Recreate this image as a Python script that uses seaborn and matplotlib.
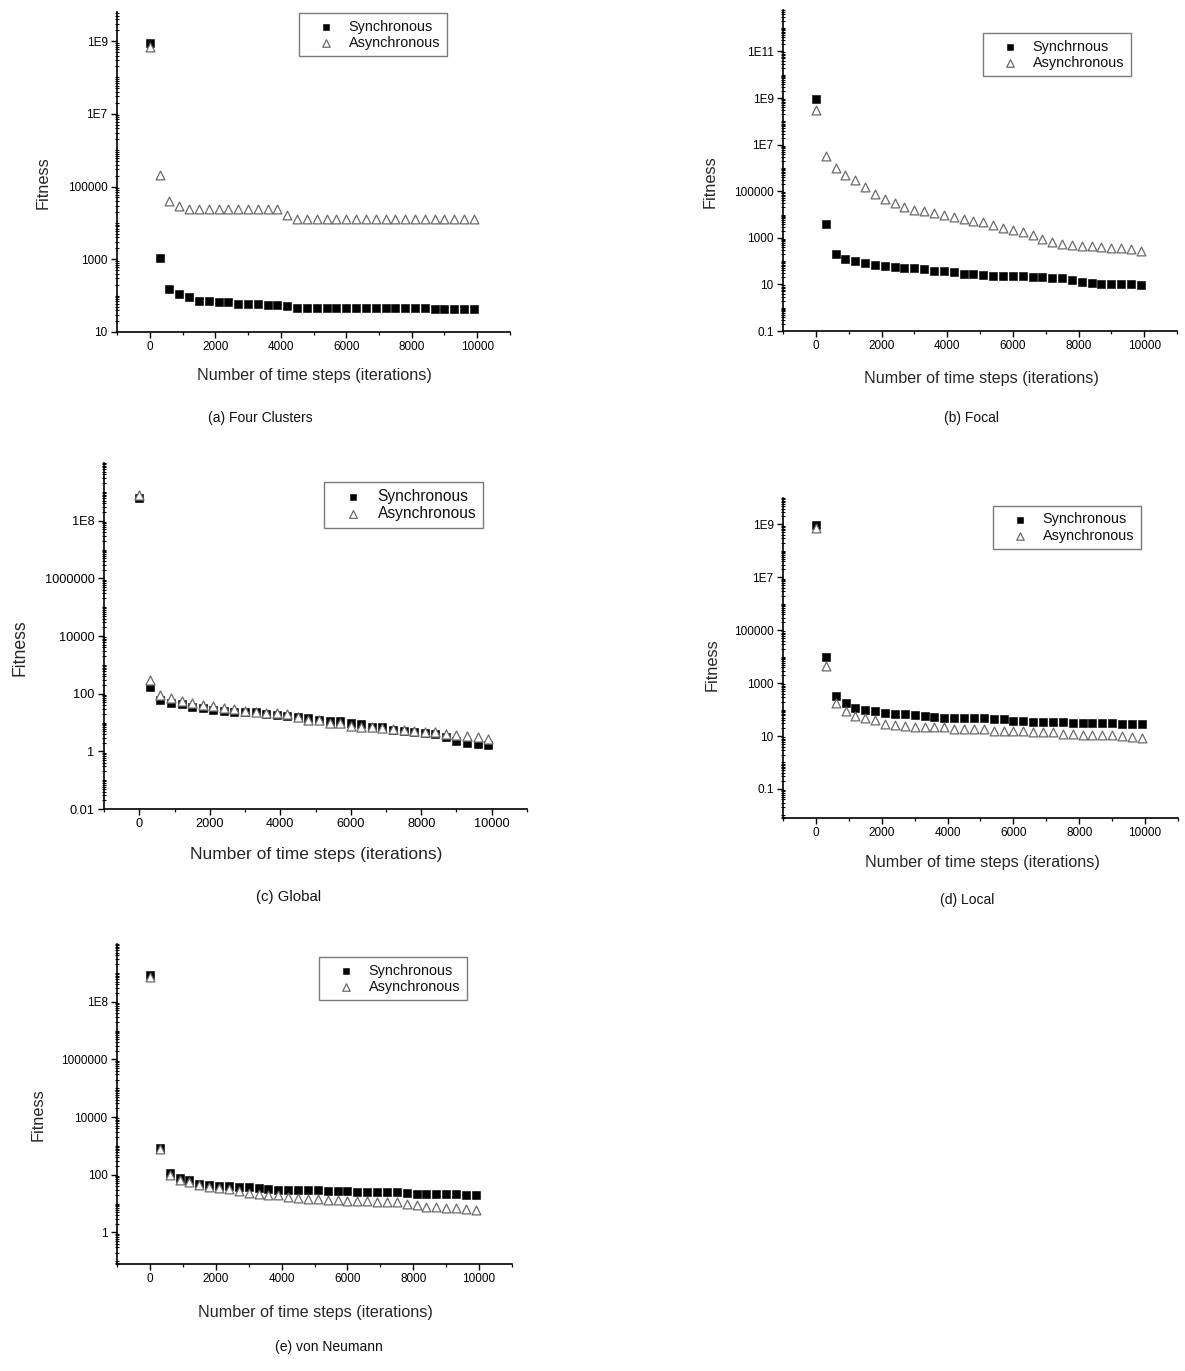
import matplotlib
matplotlib.use("Agg")
import matplotlib.pyplot as plt
import matplotlib.ticker as mticker
import numpy as np
import pandas as pd
import seaborn as sns

# iteration at which fitness was recorded (same for every panel)
steps = [0, 300, 600, 900, 1200, 1500, 1800, 2100, 2400, 2700,
         3000, 3300, 3600, 3900, 4200, 4500, 4800, 5100, 5400, 5700,
         6000, 6300, 6600, 6900, 7200, 7500, 7800, 8100, 8400, 8700,
         9000, 9300, 9600, 9900]

# (a) four clusters
four_sync = [9e8, 1100, 150, 110, 92, 73, 70, 67, 66, 59,
             58, 58, 56, 54, 51, 46, 46, 46, 46, 46,
             46, 46, 45, 45, 45, 45, 45, 45, 45, 44,
             44, 44, 44, 44]
four_async = [7e8, 2.1e5, 4e4, 2.9e4, 2.4e4, 2.4e4, 2.4e4, 2.4e4, 2.4e4, 2.4e4,
              2.4e4, 2.4e4, 2.4e4, 2.4e4, 1.7e4, 1.3e4, 1.3e4, 1.3e4, 1.3e4, 1.3e4,
              1.3e4, 1.3e4, 1.3e4, 1.3e4, 1.3e4, 1.3e4, 1.3e4, 1.3e4, 1.3e4, 1.3e4,
              1.3e4, 1.3e4, 1.3e4, 1.3e4]

# (b) focal
focal_sync = [9e8, 3800, 200, 125, 97, 83, 70, 59, 55, 53,
              49, 46, 39, 37, 34, 29, 27, 25, 24, 24,
              23, 23, 21, 20, 19, 18, 15, 13, 11, 10.9,
              10.6, 10, 10, 9.5]
focal_async = [3e8, 3.1e6, 9.5e5, 4.8e5, 3.1e5, 1.5e5, 7.8e4, 4.8e4, 3e4, 2.1e4,
               1.5e4, 1.35e4, 1.15e4, 1e4, 8000, 6500, 5500, 4800, 3600, 2600,
               2200, 1700, 1300, 900, 690, 565, 480, 460, 445, 405,
               380, 355, 340, 280]

# (c) global
global_sync = [6e8, 170, 62, 49, 43, 35, 33, 28, 26, 23,
               23, 23, 19, 18, 17, 15, 14, 12, 11, 11,
               10, 8.9, 7, 7, 5.5, 5.2, 4.8, 4.3, 4.1, 3.2,
               2.3, 2.0, 1.8, 1.6]
global_async = [7.8e8, 290, 92, 70, 56, 48, 42, 37, 33, 29,
                25, 24, 21, 21, 19, 15.5, 12, 12, 10, 9.6,
                7.6, 7, 7, 6.6, 6, 5.5, 5.1, 4.8, 4.6, 3.9,
                3.6, 3.3, 3.1, 2.7]

# (d) local
local_sync = [9.3e8, 1e4, 316, 178, 118, 98, 85, 72, 68, 68,
              62, 55, 54, 50, 49, 48, 47, 46, 44, 43,
              38, 36, 35, 35, 34, 33, 32, 31, 30, 30,
              30, 29, 29, 29]
local_async = [7.4e8, 4300, 170, 85, 59, 48, 40, 29, 25, 24,
               22, 22, 21, 21, 19, 19, 18, 18, 16, 15,
               15, 15, 14, 14, 14, 12, 11.5, 11, 10.8, 10.8,
               10.5, 10, 9, 8.5]

# (e) von Neumann
vn_sync = [8.5e8, 820, 112, 78, 63, 49, 43, 41, 41, 38,
           36, 34, 32, 30, 30, 30, 29, 29, 28, 28,
           27, 26, 26, 25, 25, 25, 24, 22, 21, 21,
           21, 21, 20.5, 20]
vn_async = [6.9e8, 760, 100, 68, 56, 44, 37, 35, 31, 27,
            23, 21, 20, 19, 17, 15, 14, 14, 13.5, 13,
            12, 12, 12, 11.7, 11.5, 11, 10, 8.8, 7.5, 7.3,
            7.1, 6.8, 6.6, 6.2]

x_ticks = [0, 2000, 4000, 6000, 8000, 10000]

yticks_a = [10, 1e3, 1e5, 1e7, 1e9]
ylabels_a = ["10", "1000", "100000", "1E7", "1E9"]
yticks_b = [0.1, 10, 1e3, 1e5, 1e7, 1e9, 1e11]
ylabels_b = ["0.1", "10", "1000", "100000", "1E7", "1E9", "1E11"]
yticks_c = [0.01, 1, 100, 1e4, 1e6, 1e8]
ylabels_c = ["0.01", "1", "100", "10000", "1000000", "1E8"]
yticks_d = [0.1, 10, 1e3, 1e5, 1e7, 1e9]
ylabels_d = ["0.1", "10", "1000", "100000", "1E7", "1E9"]
yticks_e = [1, 100, 1e4, 1e6, 1e8]
ylabels_e = ["1", "100", "10000", "1000000", "1E8"]

sns.set_style("ticks")
plt.rcParams["font.family"] = ["Liberation Sans", "DejaVu Sans"]
plt.rcParams["text.color"] = "#111111"

W, H = 1185, 1371
fig = plt.figure(figsize=(W / 100, H / 100), dpi=100)
fig.patch.set_facecolor("white")


def fx(px):
    return px / W


def fy(py):
    return 1 - py / H


def draw_panel(box, sync, asyn, sync_name, ylim, yticks, ylabels, title,
               legend_xy, xlabel_xy, ylabel_xy, title_xy, scale=1.0):
    left, top, right, bottom = box
    ax = fig.add_axes([fx(left), fy(bottom), (right - left) / W, (bottom - top) / H])
    df = pd.DataFrame({"step": steps, "sync": sync, "async": asyn})

    # open triangles are drawn over the filled squares, as in the original
    sns.scatterplot(data=df, x="step", y="sync", marker="s", s=26 * scale,
                    color="black", edgecolor="black", linewidth=0.4,
                    label=sync_name, ax=ax, zorder=3)
    sns.scatterplot(data=df, x="step", y="async", marker="^", s=40 * scale,
                    facecolor="white", edgecolor="#6a6a6a", linewidth=0.9,
                    label="Asynchronous", ax=ax, zorder=4)

    ax.set_yscale("log")
    ax.set_xlim(-1000, 11000)
    ax.set_ylim(*ylim)
    ax.set_xticks(x_ticks)
    ax.xaxis.set_minor_locator(mticker.MultipleLocator(1000))
    ax.yaxis.set_major_locator(mticker.FixedLocator(yticks))
    ax.yaxis.set_major_formatter(mticker.FixedFormatter(ylabels))
    ax.yaxis.set_minor_locator(mticker.LogLocator(base=10, subs=np.arange(1, 10), numticks=100))
    ax.yaxis.set_minor_formatter(mticker.NullFormatter())
    ax.tick_params(which="major", direction="out", length=4.3, width=1.0,
                   labelsize=8.5 * scale, colors="black", pad=2.5)
    ax.tick_params(axis="y", which="minor", direction="inout", length=3.2, width=0.8, colors="black")
    ax.tick_params(axis="x", which="minor", direction="out", length=2.5, width=0.9, colors="black")

    sns.despine(ax=ax)
    for side in ["left", "bottom"]:
        ax.spines[side].set_linewidth(1.2)
        ax.spines[side].set_color("black")

    ax.set_xlabel("Number of time steps (iterations)", fontsize=11.6 * scale, va="center")
    ax.set_ylabel("Fitness", fontsize=11.8 * scale, va="center", ha="center")
    ax.xaxis.set_label_coords(fx(xlabel_xy[0]), fy(xlabel_xy[1]), transform=fig.transFigure)
    ax.yaxis.set_label_coords(fx(ylabel_xy[0]), fy(ylabel_xy[1]), transform=fig.transFigure)

    leg = ax.legend(loc="upper left", bbox_to_anchor=(fx(legend_xy[0]), fy(legend_xy[1])),
                    bbox_transform=fig.transFigure, frameon=True, fancybox=False,
                    edgecolor="#7a7a7a", framealpha=1, fontsize=10.4 * scale,
                    borderpad=0.45, handlelength=2.8, handletextpad=0.2,
                    labelspacing=0.15, borderaxespad=0, markerscale=0.85)
    leg.get_frame().set_linewidth(1.0)

    fig.text(fx(title_xy[0]), fy(title_xy[1]), title, fontsize=10 * scale,
             ha="center", va="center")
    return ax


draw_panel((117, 12, 510, 332), four_sync, four_async, "Synchronous",
           (10, 6.3e9), yticks_a, ylabels_a, "(a) Four Clusters",
           (299, 13), (314, 376), (43, 183), (260, 418))
draw_panel((783, 10, 1177, 331), focal_sync, focal_async, "Synchrnous",
           (0.1, 6e12), yticks_b, ylabels_b, "(b) Focal",
           (983, 33), (981, 378), (710, 182), (971, 418))
draw_panel((104, 463, 527, 809), global_sync, global_async, "Synchronous",
           (0.01, 1e10), yticks_c, ylabels_c, "(c) Global",
           (324, 482), (316, 855), (20, 648), (289, 897), scale=1.077)
draw_panel((783, 498, 1178, 818), local_sync, local_async, "Synchronous",
           (10 ** -2.1, 1e10), yticks_d, ylabels_d, "(d) Local",
           (993, 506), (982, 863), (712, 665), (967, 900))
draw_panel((117, 944, 512, 1264), vn_sync, vn_async, "Synchronous",
           (0.08, 1e10), yticks_e, ylabels_e, "(e) von Neumann",
           (319, 957), (315, 1313), (38, 1115), (329, 1347))

fig.savefig("out.png", dpi=100, facecolor="white")
